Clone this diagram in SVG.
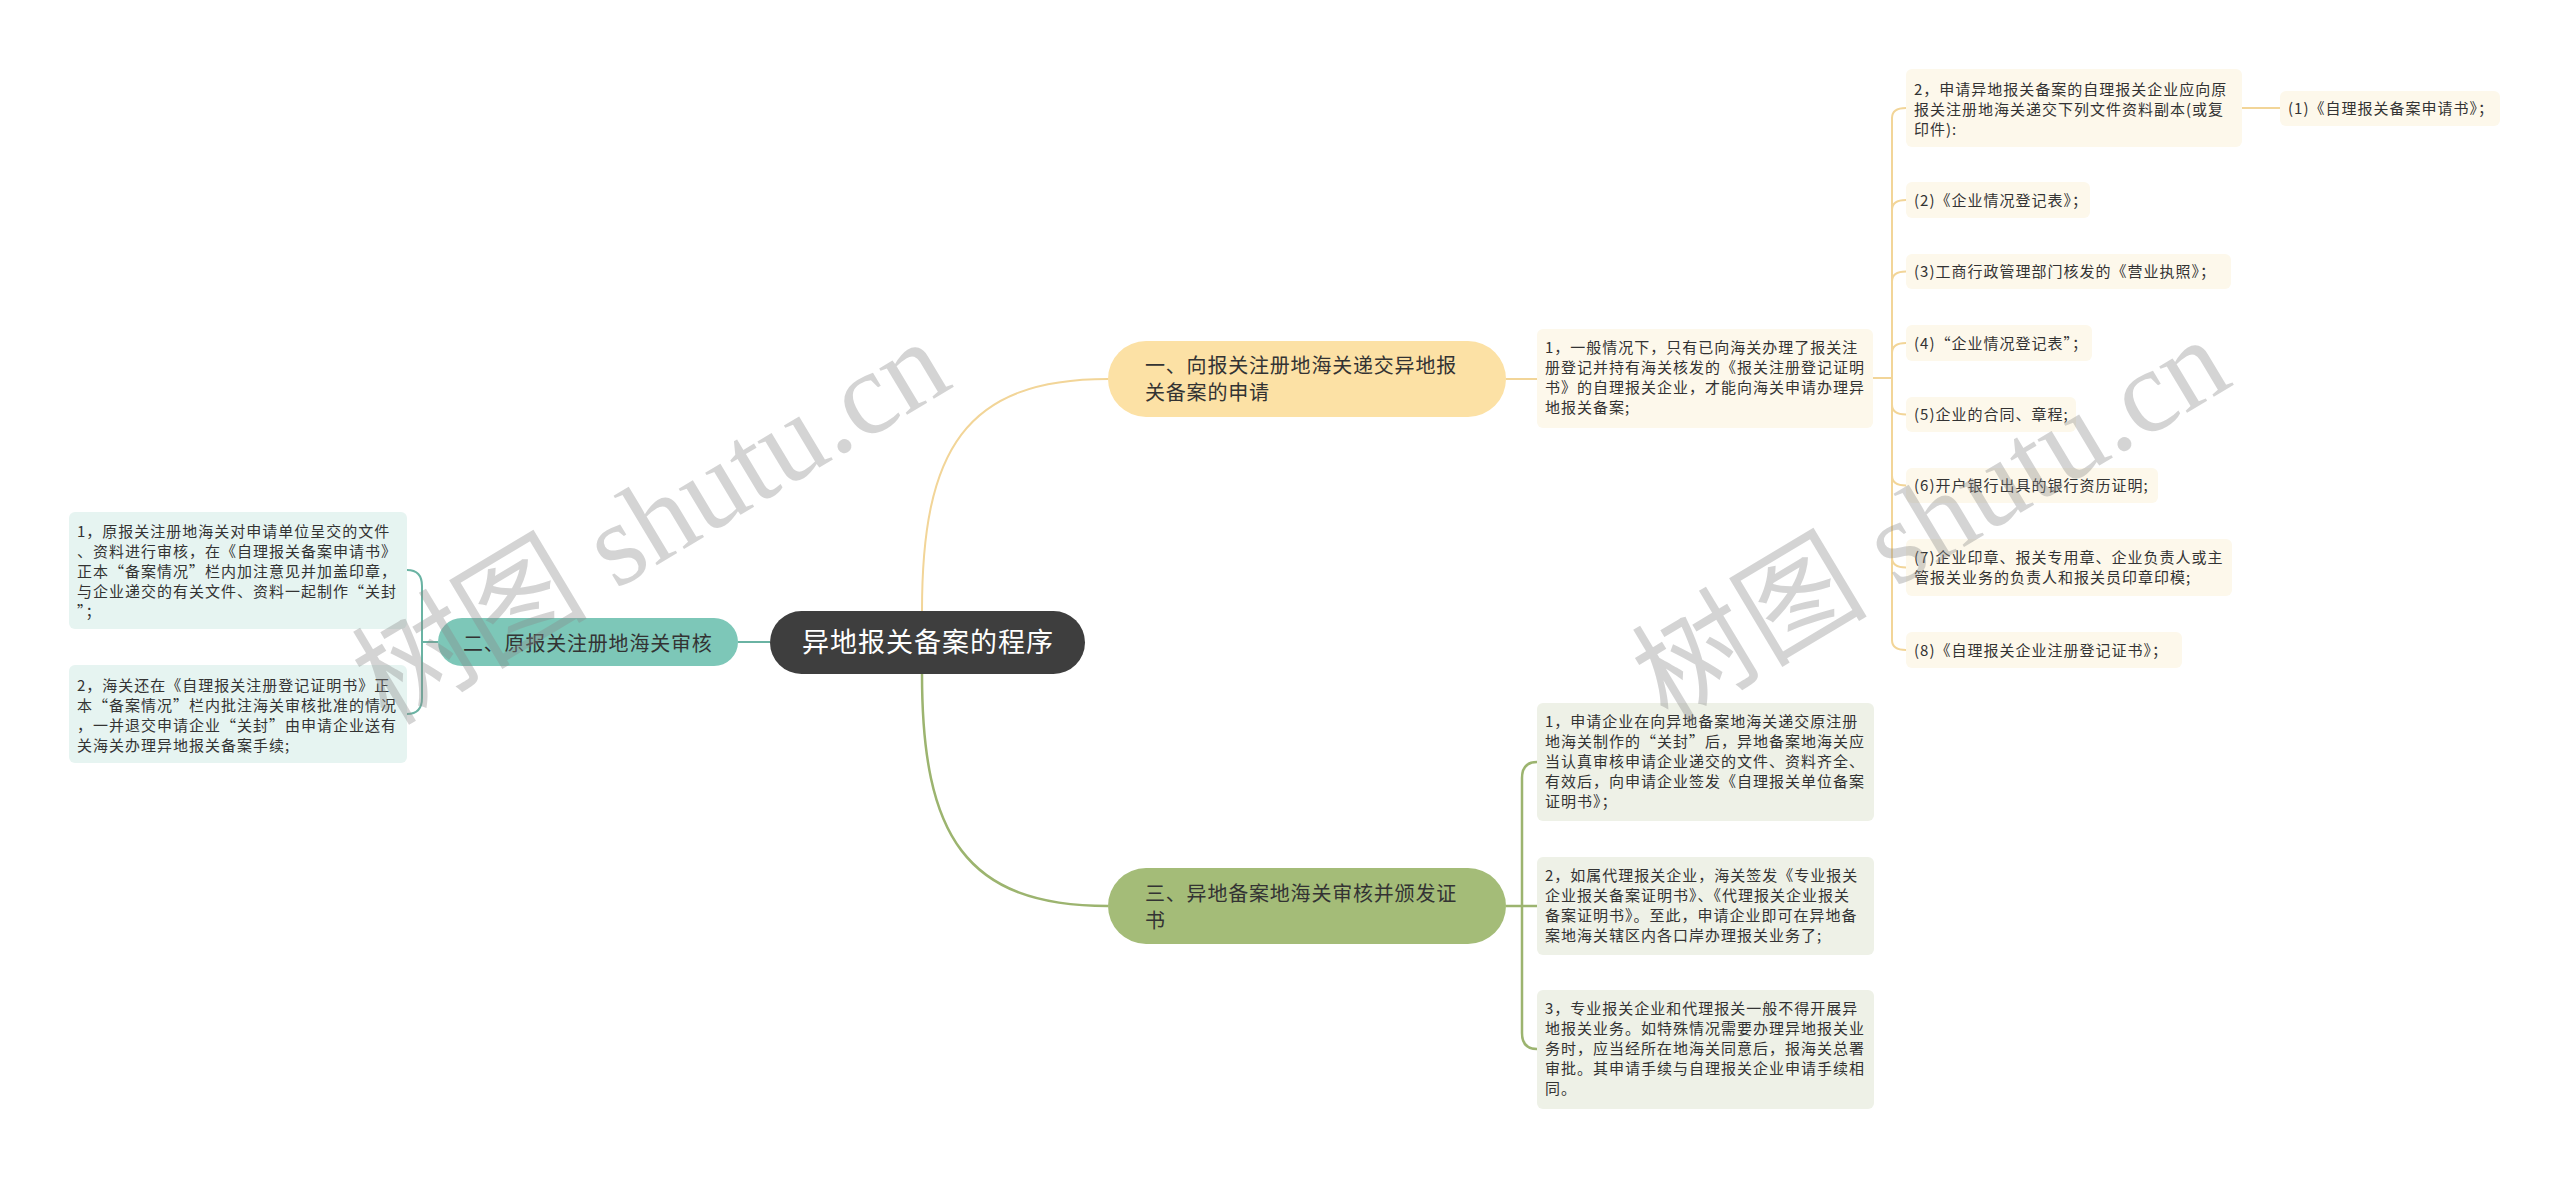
<svg xmlns="http://www.w3.org/2000/svg" width="2560" height="1179" viewBox="0 0 2560 1179">
<style>
text{font-family:"Noto Sans CJK SC","Noto Sans",sans-serif;fill:#333;}
.leaf{font-size:15px;letter-spacing:1px;}
.main{font-size:20px;letter-spacing:0.8px;}
.ly{fill:none;stroke:#F2D598;stroke-width:2;}
.lt{fill:none;stroke:#6AB3A3;stroke-width:2;}
.lg{fill:none;stroke:#9CB46F;stroke-width:2.5;}
.by{fill:#FDF8EB;}
.bt{fill:#E6F4F1;}
.bg{fill:#EEF1E7;}
.wm{font-family:"Liberation Serif","Noto Sans CJK SC",serif;font-size:118px;fill:#8a8a8a;opacity:0.36;}
</style>
<rect width="2560" height="1179" fill="#fff"/>
<g id="connectors">
<path class="ly" d="M922 611 C922 450 965 379 1108 379"/>
<path class="lg" d="M922 674 C922 835 965 906 1108 906"/>
<path class="lt" d="M738 642 H770"/>
<path class="ly" d="M1506 379 H1537"/>
<path class="ly" d="M1873 378 H1892 V118 Q1892 108 1906 108"/>
<path class="ly" d="M1892 378 V210 Q1892 200 1906 200"/>
<path class="ly" d="M1892 378 V281.5 Q1892 271.5 1906 271.5"/>
<path class="ly" d="M1892 378 V353 Q1892 343 1906 343"/>
<path class="ly" d="M1892 378 V404.5 Q1892 414.5 1906 414.5"/>
<path class="ly" d="M1892 378 V475.5 Q1892 485.5 1906 485.5"/>
<path class="ly" d="M1892 378 V557.5 Q1892 567.5 1906 567.5"/>
<path class="ly" d="M1892 378 V640 Q1892 650 1906 650"/>
<path class="ly" d="M2242 108 H2280"/>
<path class="lt" d="M438 642 H422 V586 Q422 570 407 570"/>
<path class="lt" d="M422 642 V698 Q422 714 407 714"/>
<path class="lg" d="M1506 906 H1537"/>
<path class="lg" d="M1522 906 V778 Q1522 762 1537 762"/>
<path class="lg" d="M1522 906 V1033 Q1522 1049 1537 1049"/>
</g>
<g id="center">
<rect x="770" y="611" width="315" height="63" rx="31.5" fill="#3E3E3E"/>
<text x="802" y="652" style="font-size:27px;letter-spacing:1px;fill:#fff">异地报关备案的程序</text>
</g>
<g id="b1">
<rect x="1108" y="341" width="398" height="76" rx="38" fill="#FCE1A5"/>
<text class="main" x="1145" y="372.5">一、向报关注册地海关递交异地报</text>
<text class="main" x="1145" y="399.5">关备案的申请</text>
</g>
<g id="b2">
<rect x="438" y="618" width="300" height="48" rx="24" fill="#7DC7B8"/>
<text class="main" x="463" y="651">二、原报关注册地海关审核</text>
</g>
<g id="b3">
<rect x="1108" y="868" width="398" height="76" rx="38" fill="#A4BC78"/>
<text class="main" x="1145" y="900.5">三、异地备案地海关审核并颁发证</text>
<text class="main" x="1145" y="927.5">书</text>
</g>
<g id="y1">
<rect class="by" x="1537" y="329" width="336" height="99" rx="6"/>
<text class="leaf" x="1545" y="353">1，一般情况下，只有已向海关办理了报关注</text>
<text class="leaf" x="1545" y="373">册登记并持有海关核发的《报关注册登记证明</text>
<text class="leaf" x="1545" y="393">书》的自理报关企业，才能向海关申请办理异</text>
<text class="leaf" x="1545" y="413">地报关备案;</text>
</g>
<g id="y2">
<rect class="by" x="1906" y="69" width="336" height="78" rx="6"/>
<text class="leaf" x="1914" y="95">2，申请异地报关备案的自理报关企业应向原</text>
<text class="leaf" x="1914" y="115">报关注册地海关递交下列文件资料副本(或复</text>
<text class="leaf" x="1914" y="135">印件):</text>
</g>
<g id="y2a">
<rect class="by" x="2280" y="91" width="220" height="35" rx="6"/>
<text class="leaf" x="2288" y="114">(1)《自理报关备案申请书》；</text>
</g>
<g id="y3">
<rect class="by" x="1906" y="182" width="184" height="36" rx="6"/>
<text class="leaf" x="1914" y="206">(2)《企业情况登记表》；</text>
</g>
<g id="y4">
<rect class="by" x="1906" y="254" width="325" height="35" rx="6"/>
<text class="leaf" x="1914" y="277">(3)工商行政管理部门核发的《营业执照》；</text>
</g>
<g id="y5">
<rect class="by" x="1906" y="325" width="186" height="36" rx="6"/>
<text class="leaf" x="1914" y="349">(4)“企业情况登记表”；</text>
</g>
<g id="y6">
<rect class="by" x="1906" y="397" width="170" height="35" rx="6"/>
<text class="leaf" x="1914" y="420">(5)企业的合同、章程;</text>
</g>
<g id="y7">
<rect class="by" x="1906" y="468" width="252" height="35" rx="6"/>
<text class="leaf" x="1914" y="491">(6)开户银行出具的银行资历证明;</text>
</g>
<g id="y8">
<rect class="by" x="1906" y="539" width="326" height="57" rx="6"/>
<text class="leaf" x="1914" y="563">(7)企业印章、报关专用章、企业负责人或主</text>
<text class="leaf" x="1914" y="583">管报关业务的负责人和报关员印章印模;</text>
</g>
<g id="y9">
<rect class="by" x="1906" y="632" width="276" height="36" rx="6"/>
<text class="leaf" x="1914" y="656">(8)《自理报关企业注册登记证书》；</text>
</g>
<g id="t1">
<rect class="bt" x="69" y="512" width="338" height="117" rx="6"/>
<text class="leaf" x="77" y="537">1，原报关注册地海关对申请单位呈交的文件</text>
<text class="leaf" x="77" y="557">、资料进行审核，在《自理报关备案申请书》</text>
<text class="leaf" x="77" y="577">正本“备案情况”栏内加注意见并加盖印章，</text>
<text class="leaf" x="77" y="597">与企业递交的有关文件、资料一起制作“关封</text>
<text class="leaf" x="77" y="617">”；</text>
</g>
<g id="t2">
<rect class="bt" x="69" y="665" width="338" height="98" rx="6"/>
<text class="leaf" x="77" y="691">2，海关还在《自理报关注册登记证明书》正</text>
<text class="leaf" x="77" y="711">本“备案情况”栏内批注海关审核批准的情况</text>
<text class="leaf" x="77" y="731">，一并退交申请企业“关封”由申请企业送有</text>
<text class="leaf" x="77" y="751">关海关办理异地报关备案手续;</text>
</g>
<g id="g1">
<rect class="bg" x="1537" y="703" width="337" height="118" rx="6"/>
<text class="leaf" x="1545" y="727">1，申请企业在向异地备案地海关递交原注册</text>
<text class="leaf" x="1545" y="747">地海关制作的“关封”后，异地备案地海关应</text>
<text class="leaf" x="1545" y="767">当认真审核申请企业递交的文件、资料齐全、</text>
<text class="leaf" x="1545" y="787">有效后，向申请企业签发《自理报关单位备案</text>
<text class="leaf" x="1545" y="807">证明书》；</text>
</g>
<g id="g2">
<rect class="bg" x="1537" y="857" width="337" height="98" rx="6"/>
<text class="leaf" x="1545" y="881">2，如属代理报关企业，海关签发《专业报关</text>
<text class="leaf" x="1545" y="901">企业报关备案证明书》、《代理报关企业报关</text>
<text class="leaf" x="1545" y="921">备案证明书》。至此，申请企业即可在异地备</text>
<text class="leaf" x="1545" y="941">案地海关辖区内各口岸办理报关业务了;</text>
</g>
<g id="g3">
<rect class="bg" x="1537" y="990" width="337" height="119" rx="6"/>
<text class="leaf" x="1545" y="1014">3，专业报关企业和代理报关一般不得开展异</text>
<text class="leaf" x="1545" y="1034">地报关业务。如特殊情况需要办理异地报关业</text>
<text class="leaf" x="1545" y="1054">务时，应当经所在地海关同意后，报海关总署</text>
<text class="leaf" x="1545" y="1074">审批。其申请手续与自理报关企业申请手续相</text>
<text class="leaf" x="1545" y="1094">同。</text>
</g>
<g id="watermarks">
<text class="wm" transform="translate(651,522) rotate(-31)" text-anchor="middle" y="40">树图 shutu.cn</text>
<text class="wm" transform="translate(1931,520) rotate(-31)" text-anchor="middle" y="40">树图 shutu.cn</text>
</g>
</svg>
